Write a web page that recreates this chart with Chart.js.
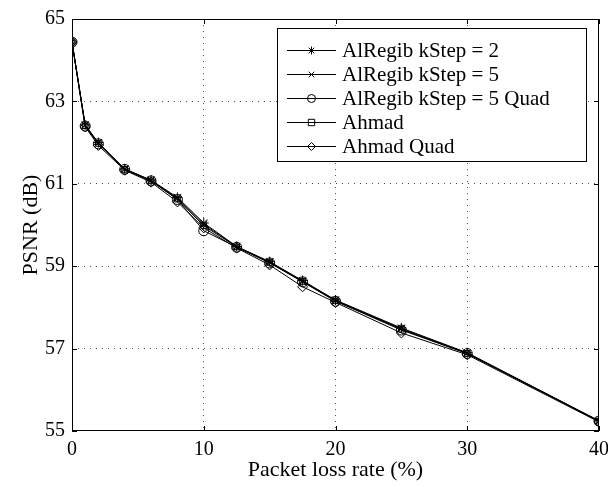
<!DOCTYPE html>
<html>
<head>
<meta charset="utf-8">
<script src="https://cdn.jsdelivr.net/npm/chart.js"></script>
<style>
  body { margin: 0; background: #fff; }
  canvas { display: block; }
</style>
</head>
<body>
<canvas id="myChart" width="608" height="487"></canvas>
<script>
// packet loss rate (%)
const lossRates = [0, 1, 2, 4, 6, 8, 10, 12.5, 15, 17.5, 20, 25, 30, 40];

// PSNR (dB) per method
const alregibK2 = [64.44, 62.43, 62.00, 61.36, 61.09, 60.67, 60.05, 59.48, 59.11, 58.65, 58.18, 57.50, 56.90, 55.25];
const alregibK5 = [64.44, 62.42, 61.99, 61.36, 61.08, 60.65, 60.02, 59.47, 59.10, 58.64, 58.17, 57.48, 56.89, 55.24];
const alregibK5Quad = [64.44, 62.40, 61.97, 61.35, 61.07, 60.62, 59.86, 59.46, 59.08, 58.62, 58.15, 57.45, 56.88, 55.24];
const ahmad = [64.44, 62.41, 61.98, 61.35, 61.07, 60.63, 59.98, 59.47, 59.09, 58.63, 58.16, 57.47, 56.88, 55.24];
const ahmadQuad = [64.44, 62.38, 61.93, 61.33, 61.04, 60.56, 59.93, 59.44, 59.03, 58.50, 58.12, 57.38, 56.85, 55.22];

const seriesNames = ['AlRegib kStep = 2', 'AlRegib kStep = 5', 'AlRegib kStep = 5 Quad', 'Ahmad', 'Ahmad Quad'];
const seriesValues = [alregibK2, alregibK5, alregibK5Quad, ahmad, ahmadQuad];
const seriesMarkers = ['star', 'crossRot', 'circle', 'rect', 'rectRot'];

const xTicks = [0, 10, 20, 30, 40];
const yTicks = [55, 57, 59, 61, 63, 65];

const FONT = "'Liberation Serif', 'Times New Roman', serif";

function drawMarker(ctx, style, x, y, r) {
    ctx.beginPath();
    if (style === 'circle') {
        ctx.arc(x, y, r, 0, Math.PI * 2);
    } else if (style === 'rect') {
        const s = r * 0.8;
        ctx.rect(x - s, y - s, 2 * s, 2 * s);
    } else if (style === 'rectRot') {
        ctx.moveTo(x, y - r); ctx.lineTo(x + r, y); ctx.lineTo(x, y + r); ctx.lineTo(x - r, y); ctx.closePath();
    } else if (style === 'crossRot') {
        const s = r * 0.7;
        ctx.moveTo(x - s, y - s); ctx.lineTo(x + s, y + s);
        ctx.moveTo(x + s, y - s); ctx.lineTo(x - s, y + s);
    } else if (style === 'star') {
        const s = r * 0.7;
        ctx.moveTo(x, y - r); ctx.lineTo(x, y + r);
        ctx.moveTo(x - r, y); ctx.lineTo(x + r, y);
        ctx.moveTo(x - s, y - s); ctx.lineTo(x + s, y + s);
        ctx.moveTo(x + s, y - s); ctx.lineTo(x - s, y + s);
    }
    ctx.stroke();
}

// box, inward ticks and legend, matlab style
const frameLegend = {
    id: 'frameLegend',
    afterDatasetsDraw(chart) {
        const ctx = chart.ctx;
        const a = chart.chartArea;
        const xs = chart.scales.x, ys = chart.scales.y;
        ctx.save();
        ctx.strokeStyle = '#000';
        ctx.lineWidth = 1;
        ctx.strokeRect(a.left + 0.5, a.top + 0.5, a.right - a.left - 1, a.bottom - a.top - 1);
        const tl = 5;
        ctx.beginPath();
        xTicks.forEach(v => {
            const px = Math.round(xs.getPixelForValue(v)) + 0.5;
            ctx.moveTo(px, a.bottom); ctx.lineTo(px, a.bottom - tl);
            ctx.moveTo(px, a.top); ctx.lineTo(px, a.top + tl);
        });
        yTicks.forEach(v => {
            const py = Math.round(ys.getPixelForValue(v)) + 0.5;
            ctx.moveTo(a.left, py); ctx.lineTo(a.left + tl, py);
            ctx.moveTo(a.right, py); ctx.lineTo(a.right - tl, py);
        });
        ctx.stroke();

        // legend
        const boxR = a.right - 12, boxL = boxR - 310, boxT = a.top + 9;
        const rowH = 24;
        const boxB = boxT + 22 + rowH * (seriesNames.length - 1) + 16;
        ctx.fillStyle = '#fff';
        ctx.fillRect(boxL, boxT, boxR - boxL, boxB - boxT);
        ctx.strokeRect(boxL + 0.5, boxT + 0.5, boxR - boxL - 1, boxB - boxT - 1);
        ctx.font = '21px ' + FONT;
        ctx.textBaseline = 'middle';
        seriesNames.forEach((name, i) => {
            const y = boxT + 22 + i * rowH;
            ctx.beginPath();
            ctx.moveTo(boxL + 10, y + 0.5); ctx.lineTo(boxL + 59, y + 0.5);
            ctx.stroke();
            drawMarker(ctx, seriesMarkers[i], boxL + 34.5, y + 0.5, 4);
            ctx.fillStyle = '#000';
            ctx.fillText(name, boxL + 65, y + 1);
        });
        ctx.restore();
    }
};

const datasets = seriesNames.map((name, i) => ({
    label: name,
    data: lossRates.map((x, j) => ({ x: x, y: seriesValues[i][j] })),
    borderColor: '#000',
    borderWidth: 1,
    pointStyle: seriesMarkers[i],
    pointRadius: seriesMarkers[i] === 'rect' ? 4 : 5,
    pointBorderWidth: 1,
    pointBorderColor: '#000',
    pointBackgroundColor: 'rgba(0,0,0,0)',
    tension: 0
}));

const edgeColor = (min, max) => c => (c.tick && (c.tick.value === min || c.tick.value === max)) ? 'rgba(0,0,0,0)' : '#555';

new Chart(document.getElementById('myChart').getContext('2d'), {
    type: 'line',
    data: { datasets: datasets },
    options: {
        responsive: false,
        animation: false,
        layout: { padding: { top: 18, right: 0, left: 0, bottom: 0 } },
        plugins: { legend: { display: false }, tooltip: { enabled: false } },
        scales: {
            x: {
                type: 'linear',
                min: 0, max: 40,
                afterBuildTicks: s => { s.ticks = xTicks.map(v => ({ value: v })); },
                afterFit: s => { s.height = 56; s.paddingRight = 9; s.paddingLeft = 0; },
                grid: { color: edgeColor(0, 40), lineWidth: 1, drawTicks: false },
                border: { display: false, dash: [1, 5] },
                ticks: { color: '#000', font: { family: FONT, size: 20 }, padding: 7, maxRotation: 0 },
                title: { display: true, text: 'Packet loss rate (%)', color: '#000', font: { family: FONT, size: 22 }, padding: { top: 0, bottom: 4 } }
            },
            y: {
                min: 55, max: 65,
                afterBuildTicks: s => { s.ticks = yTicks.map(v => ({ value: v })); },
                afterFit: s => { s.width = 72; },
                grid: { color: edgeColor(55, 65), lineWidth: 1, drawTicks: false },
                border: { display: false, dash: [1, 5] },
                ticks: { color: '#000', font: { family: FONT, size: 20 }, padding: 7 },
                title: { display: true, text: 'PSNR (dB)', color: '#000', font: { family: FONT, size: 22 }, padding: { top: 18, bottom: 0 } }
            }
        }
    },
    plugins: [frameLegend]
});
</script>
</body>
</html>
